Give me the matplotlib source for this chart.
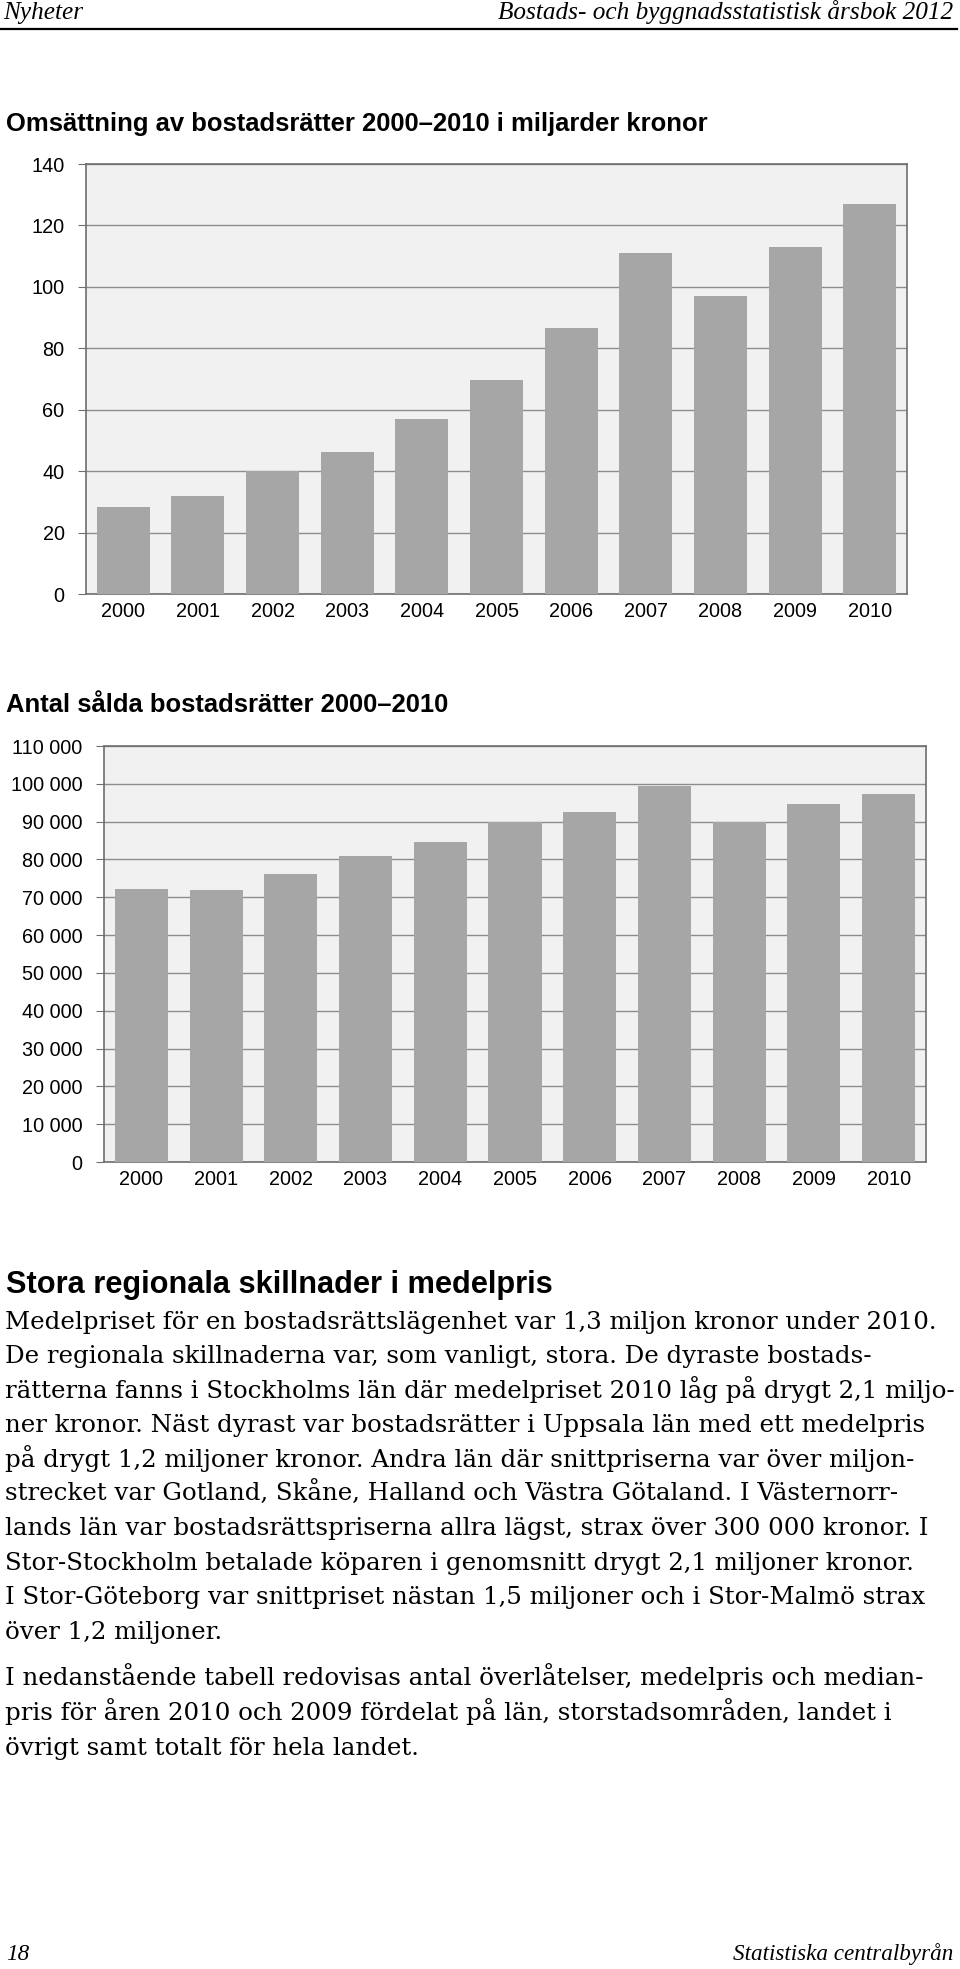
import matplotlib
matplotlib.use("Agg")
import matplotlib.pyplot as plt
from matplotlib.ticker import FixedLocator

# data read from the page
years = ['2000', '2001', '2002', '2003', '2004', '2005', '2006', '2007', '2008', '2009', '2010']
omsattning = [28.2, 31.8, 40.0, 46.3, 57.0, 69.7, 86.5, 111.0, 97.0, 113.0, 127.0]
antal = [72300, 72000, 76200, 81000, 84500, 89900, 92500, 99300, 89900, 94600, 97400]

ticks1 = [0, 20, 40, 60, 80, 100, 120, 140]
ticks2 = [0, 10000, 20000, 30000, 40000, 50000, 60000, 70000, 80000, 90000, 100000, 110000]
ticklabels2 = ['0', '10 000', '20 000', '30 000', '40 000', '50 000', '60 000',
               '70 000', '80 000', '90 000', '100 000', '110 000']

title1 = "Omsättning av bostadsrätter 2000–2010 i miljarder kronor"
title2 = "Antal sålda bostadsrätter 2000–2010"
heading = "Stora regionala skillnader i medelpris"
para1 = [
    "Medelpriset för en bostadsrättslägenhet var 1,3 miljon kronor under 2010.",
    "De regionala skillnaderna var, som vanligt, stora. De dyraste bostads-",
    "rätterna fanns i Stockholms län där medelpriset 2010 låg på drygt 2,1 miljo-",
    "ner kronor. Näst dyrast var bostadsrätter i Uppsala län med ett medelpris",
    "på drygt 1,2 miljoner kronor. Andra län där snittpriserna var över miljon-",
    "strecket var Gotland, Skåne, Halland och Västra Götaland. I Västernorr-",
    "lands län var bostadsrättspriserna allra lägst, strax över 300 000 kronor. I",
    "Stor-Stockholm betalade köparen i genomsnitt drygt 2,1 miljoner kronor.",
    "I Stor-Göteborg var snittpriset nästan 1,5 miljoner och i Stor-Malmö strax",
    "över 1,2 miljoner.",
]
para2 = [
    "I nedanstående tabell redovisas antal överlåtelser, medelpris och median-",
    "pris för åren 2010 och 2009 fördelat på län, storstadsområden, landet i",
    "övrigt samt totalt för hela landet.",
]

W, H = 960, 1969
fig = plt.figure(figsize=(W / 100, H / 100), dpi=100)
renderer = fig.canvas.get_renderer()

SANS = ['Liberation Sans', 'DejaVu Sans']
SERIF = ['DejaVu Serif']
ITAL = ['Liberation Serif', 'DejaVu Serif']


def fx(x):
    return x / W


def fy(y):
    return 1 - y / H


def fit(s, target, **kw):
    # font size that makes the string about target px wide
    t = fig.text(0, 0, s, fontsize=10, **kw)
    w = t.get_window_extent(renderer).width
    t.remove()
    return 10 * target / w


def bar_axes(rect, values, ticks, labels, ymax):
    left, top, right, bottom = rect
    ax = fig.add_axes([fx(left), fy(bottom), (right - left) / W, (bottom - top) / H])
    ax.set_facecolor('#f1f1f1')
    x = range(len(years))
    ax.bar(x, values, width=0.71, color='#a6a6a6', zorder=3)
    ax.set_xlim(-0.5, len(years) - 0.5)
    ax.set_ylim(0, ymax)
    ax.yaxis.set_major_locator(FixedLocator(ticks))
    ax.set_yticklabels(labels)
    ax.set_xticks(list(x))
    ax.set_xticklabels(years)
    ax.grid(axis='y', color='#8c8c8c', lw=1.0, zorder=1)
    for sp in ax.spines.values():
        sp.set_color('#6e6e6e')
        sp.set_linewidth(1.2)
    ax.tick_params(axis='y', length=6, color='#6e6e6e', pad=9.4, labelsize=14.3)
    ax.tick_params(axis='x', length=0, pad=6, labelsize=14.3)
    for lab in ax.get_xticklabels() + ax.get_yticklabels():
        lab.set_family(SANS)
    return ax


# page header
fs = fit("Bostads- och byggnadsstatistisk årsbok 2012", 456, family=ITAL, style='italic')
fig.text(fx(3), fy(19), "Nyheter", family=ITAL, style='italic', fontsize=fs, va='baseline')
fig.text(fx(953), fy(19), "Bostads- och byggnadsstatistisk årsbok 2012", family=ITAL,
         style='italic', fontsize=fs, va='baseline', ha='right')
fig.add_artist(plt.Line2D([0, fx(957)], [fy(29.5), fy(29.5)], color='black', lw=1.6))

# chart 1
fs = fit(title1, 704, family=SANS, weight='bold')
fig.text(fx(6), fy(131), title1, family=SANS, weight='bold', fontsize=fs, va='baseline')
bar_axes((86, 164, 907, 594), omsattning, ticks1, [str(t) for t in ticks1], 140)

# chart 2
fig.text(fx(6), fy(712.5), title2, family=SANS, weight='bold', fontsize=fs, va='baseline')
bar_axes((104, 746, 926, 1162), antal, ticks2, ticklabels2, 110000)

# text block
fs = fit(heading, 548, family=SANS, weight='bold')
fig.text(fx(6), fy(1293), heading, family=SANS, weight='bold', fontsize=fs, va='baseline')

fs = fit(para1[0], 935, family=SERIF)
for i, line in enumerate(para1):
    fig.text(fx(5), fy(1329 + 34.4 * i), line, family=SERIF, fontsize=fs, va='baseline')
for i, line in enumerate(para2):
    fig.text(fx(5), fy(1685 + 35 * i), line, family=SERIF, fontsize=fs, va='baseline')

# page footer
fs = fit("Statistiska centralbyrån", 221, family=ITAL, style='italic')
fig.text(fx(6), fy(1960), "18", family=ITAL, style='italic', fontsize=fs, va='baseline')
fig.text(fx(953), fy(1960), "Statistiska centralbyrån", family=ITAL, style='italic',
         fontsize=fs, va='baseline', ha='right')

fig.savefig('out.png', dpi=100)
